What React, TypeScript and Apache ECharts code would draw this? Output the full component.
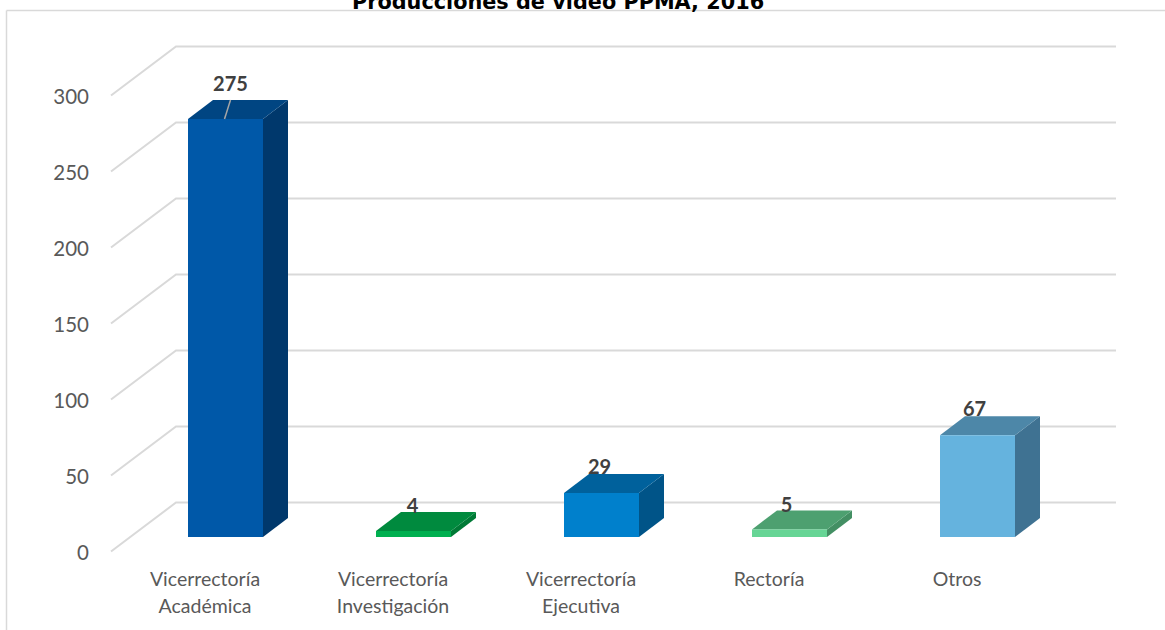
import React, { useEffect, useRef } from "react";
import * as echarts from "echarts";

const titleText = "Producciones de video PPMA, 2016";
const categories = ["Vicerrectoría\nAcadémica", "Vicerrectoría\nInvestigación", "Vicerrectoría\nEjecutiva", "Rectoría", "Otros"];
const values = [275, 4, 29, 5, 67];
const yTicks = [0, 50, 100, 150, 200, 250, 300];

const frontColors = ["#0058a8", "#00b050", "#0080cc", "#66d595", "#65b3de"];
const topColors = ["#004582", "#008a3e", "#00619c", "#4da070", "#4d87a8"];
const sideColors = ["#00386c", "#007a36", "#005488", "#438f63", "#3f7292"];

// perspective of the drawing, in pixels
const WALL_DX = 65;
const WALL_DY = -49;
const DEPTH_DX = 25;
const DEPTH_DY = -19;
const BAR_W = 75;
const BAR_SHIFT_X = 20.5;
const BAR_SHIFT_Y = -14.5;
const labelShift = [[5, -17], [-1, -7], [-2, -8], [-3, -6], [-3, -8]];
const CAL = 'Lato, sans-serif';

export default function App() {
  const ref = useRef<HTMLDivElement>(null);
  useEffect(() => {
    document.body.style.margin = "0";
    const chart = echarts.init(ref.current!, undefined, { renderer: "svg" });
    chart.setOption({
      animation: false,
      backgroundColor: "#ffffff",
      title: {
        text: titleText,
        left: 553,
        top: -14,
        textAlign: "center",
        textStyle: { fontFamily: '"DejaVu Sans", sans-serif', fontWeight: "bold", fontSize: 20.8, color: "#000000" },
      },
      grid: { left: 111, top: 95.5, width: 940, height: 456 },
      xAxis: {
        type: "category",
        data: categories,
        axisLine: { show: false },
        axisTick: { show: false },
        splitLine: { show: false },
        axisLabel: { color: "#595959", fontFamily: CAL, fontSize: 19.5, lineHeight: 27, margin: 13, interval: 0 },
      },
      yAxis: {
        type: "value",
        min: 0,
        max: 300,
        interval: 50,
        axisLine: { show: false },
        axisTick: { show: false },
        splitLine: { show: false },
        axisLabel: { color: "#595959", fontFamily: CAL, fontSize: 20.5, margin: 22 },
      },
      graphic: [
        { type: "line", silent: true, z: -1, shape: { x1: 6.5, y1: 10.5, x2: 1165, y2: 10.5 }, style: { stroke: "#d9d9d9", lineWidth: 1.5 } },
        { type: "line", silent: true, z: -1, shape: { x1: 6.5, y1: 10.5, x2: 6.5, y2: 630 }, style: { stroke: "#d9d9d9", lineWidth: 1.5 } },
      ],
      series: [
        {
          type: "custom",
          name: "grid",
          z: 1,
          silent: true,
          data: yTicks.map((t) => [0, t]),
          encode: { x: 0, y: 1 },
          renderItem: (params: any, api: any) => {
            const y = api.coord([0, api.value(1)])[1];
            const cs = params.coordSys;
            return {
              type: "polyline",
              shape: {
                points: [
                  [cs.x, y],
                  [cs.x + WALL_DX, y + WALL_DY],
                  [cs.x + cs.width + WALL_DX, y + WALL_DY],
                ],
              },
              style: { stroke: "#d9d9d9", lineWidth: 2, fill: "none" },
            };
          },
        },
        {
          type: "custom",
          name: "Producciones",
          z: 2,
          data: values.map((v, i) => [i, v]),
          encode: { x: 0, y: 1 },
          renderItem: (params: any, api: any) => {
            const i = params.dataIndex;
            const base = api.coord([i, 0]);
            const top = api.coord([i, api.value(1)]);
            const x0 = base[0] + BAR_SHIFT_X - BAR_W / 2;
            const x1 = x0 + BAR_W;
            const yb = base[1] + BAR_SHIFT_Y;
            const yt = top[1] + BAR_SHIFT_Y;
            const lx = x0 + BAR_W / 2 + labelShift[i][0];
            const ly = yt + DEPTH_DY + labelShift[i][1];
            const children: any[] = [
              { type: "polygon", shape: { points: [[x1, yb], [x1 + DEPTH_DX, yb + DEPTH_DY], [x1 + DEPTH_DX, yt + DEPTH_DY], [x1, yt]] }, style: { fill: sideColors[i] } },
              { type: "polygon", shape: { points: [[x0, yt], [x1, yt], [x1 + DEPTH_DX, yt + DEPTH_DY], [x0 + DEPTH_DX, yt + DEPTH_DY]] }, style: { fill: topColors[i] } },
              { type: "rect", shape: { x: x0, y: yt, width: BAR_W, height: yb - yt }, style: { fill: frontColors[i] } },
            ];
            if (api.value(1) > 200) {
              children.push({ type: "line", shape: { x1: lx, y1: yt + DEPTH_DY, x2: lx - 6, y2: yt }, style: { stroke: "#a6a6a6", lineWidth: 1.5 } });
            }
            children.push({
              type: "text",
              x: lx,
              y: ly,
              style: { text: String(api.value(1)), fontFamily: CAL, fontWeight: "bold", fontSize: 20, fill: "#404040", textAlign: "center", textVerticalAlign: "middle" },
            });
            return { type: "group", children };
          },
        },
      ],
    });
    return () => chart.dispose();
  }, []);
  return <div ref={ref} style={{ width: 1165, height: 630 }} />;
}
